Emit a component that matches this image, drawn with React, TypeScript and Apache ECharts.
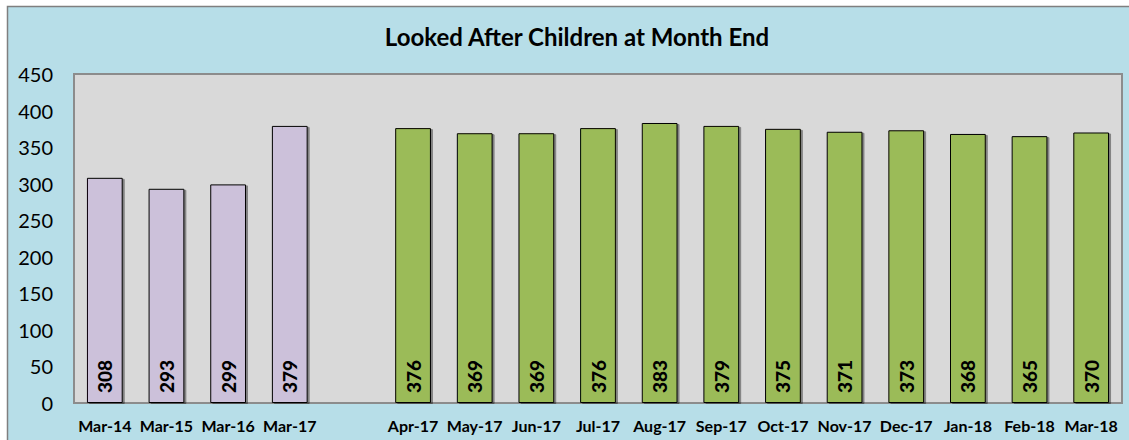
import React, { useEffect, useRef } from "react";
import * as echarts from "echarts";

const categories = ["Mar-14", "Mar-15", "Mar-16", "Mar-17", "", "Apr-17", "May-17", "Jun-17", "Jul-17", "Aug-17", "Sep-17", "Oct-17", "Nov-17", "Dec-17", "Jan-18", "Feb-18", "Mar-18"];
const annualValues: (number | null)[] = [308, 293, 299, 379, null, null, null, null, null, null, null, null, null, null, null, null, null];
const monthlyValues: (number | null)[] = [null, null, null, null, null, 376, 369, 369, 376, 383, 379, 375, 371, 373, 368, 365, 370];
const yTicks = { min: 0, max: 450, interval: 50 };
const title = "Looked After Children at Month End";

const FONT = "Lato, 'Open Sans', sans-serif";

export default function App() {
  const ref = useRef<HTMLDivElement>(null);
  useEffect(() => {
    if (!ref.current) return;
    const chart = echarts.init(ref.current, null, { renderer: "svg" });
    const label = {
      show: true,
      position: "insideBottom" as const,
      rotate: 90,
      distance: 10,
      align: "left" as const,
      verticalAlign: "middle" as const,
      color: "#000",
      fontWeight: 900,
      fontSize: 19,
      fontFamily: FONT,
    };
    const common = {
      type: "bar" as const,
      stack: "s",
      barWidth: "58%",
      label,
      itemStyle: {
        borderColor: "#000",
        borderWidth: 1,
        shadowColor: "rgba(0,0,0,0.4)",
        shadowOffsetX: 2,
        shadowOffsetY: 1,
        shadowBlur: 1,
      },
    };
    chart.setOption({
      animation: false,
      backgroundColor: "#fff",
      graphic: [
        {
          type: "rect",
          z: -10,
          silent: true,
          shape: { x: 7.5, y: 6.5, width: 1130, height: 440 },
          style: { fill: "#B7DEE8", stroke: "#7f7f7f", lineWidth: 1.5 },
        },
      ],
      title: {
        text: title,
        left: 572,
        textAlign: "center",
        top: 19,
        textStyle: { fontFamily: FONT, fontWeight: "bold", fontSize: 24, color: "#000" },
      },
      grid: {
        left: 74,
        right: 7,
        top: 74,
        bottom: 37,
        show: true,
        backgroundColor: "#D9D9D9",
        borderColor: "#8c8c8c",
        borderWidth: 2,
        containLabel: false,
      },
      xAxis: {
        type: "category",
        data: categories,
        axisLine: { show: false },
        axisTick: { show: false },
        axisLabel: {
          interval: 0,
          margin: 14,
          color: "#000",
          fontWeight: "bold",
          fontSize: 16,
          fontFamily: FONT,
        },
      },
      yAxis: {
        type: "value",
        min: yTicks.min,
        max: yTicks.max,
        interval: yTicks.interval,
        splitLine: { show: false },
        axisLine: { show: false },
        axisTick: { show: false },
        axisLabel: {
          margin: 21,
          color: "#000",
          fontSize: 20,
          fontFamily: FONT,
        },
      },
      series: [
        { ...common, name: "Annual", data: annualValues, itemStyle: { ...common.itemStyle, color: "#CCC1DA" } },
        { ...common, name: "Monthly", data: monthlyValues, itemStyle: { ...common.itemStyle, color: "#9BBB59" } },
      ],
    });
    return () => chart.dispose();
  }, []);
  return (
    <div
      ref={ref}
      style={{ position: "absolute", left: 0, top: 0, width: 1129, height: 440 }}
    />
  );
}
